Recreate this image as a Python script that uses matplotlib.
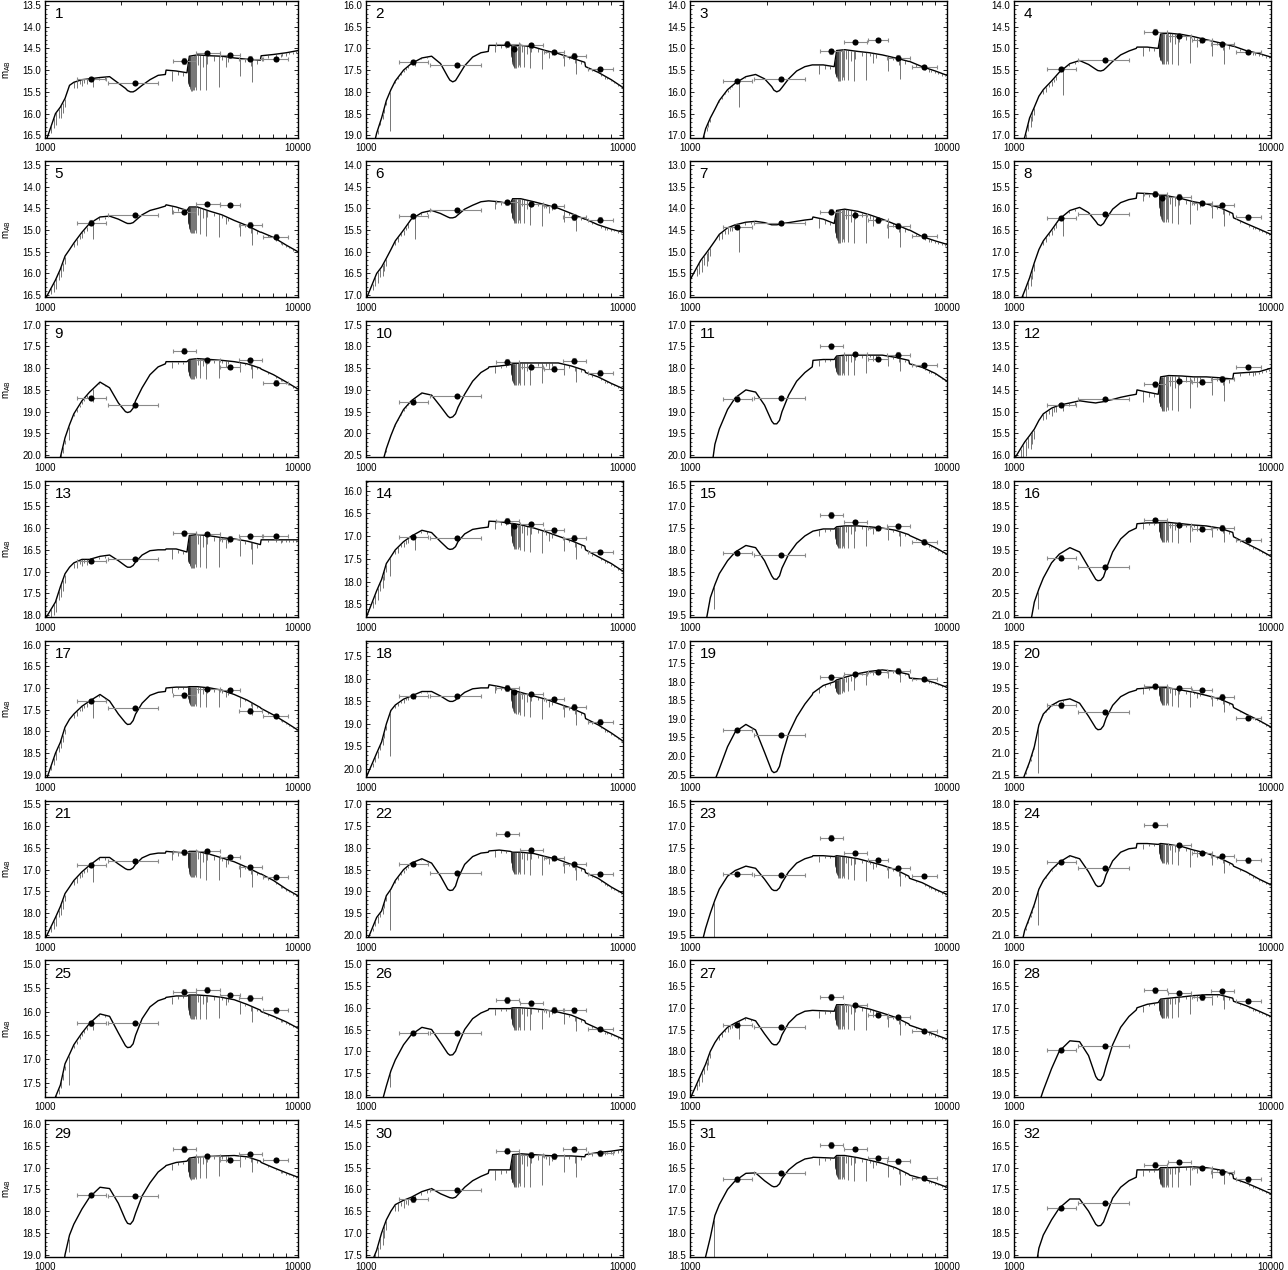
import numpy as np
import matplotlib
matplotlib.use("Agg")
import matplotlib.pyplot as plt
from matplotlib.ticker import FixedLocator, NullFormatter, MultipleLocator, FormatStrFormatter

plt.rcParams['font.family'] = ['Liberation Sans', 'DejaVu Sans']

# ---------------- data ----------------
PANEL_IDS = list(range(1, 33))

MODEL_WAVE = [1000, 1100, 1150, 1200, 1250, 1300, 1400, 1500, 1650, 1800, 1950, 2080, 2120, 2175, 2230,
              2280, 2420, 2600, 2800, 2990, 3010, 3300, 3640, 3720, 4000, 4500, 5000, 5600, 6300, 7100,
              7150, 8000, 9000, 10000]

MODEL_MAG = [
    [16.7, 16.0, 15.85, 15.65, 15.35, 15.28, 15.22, 15.2, 15.17, 15.15, 15.3, 15.42, 15.47, 15.5, 15.5, 15.47, 15.35, 15.22, 15.12, 15.1, 15.0, 15.02, 15.06, 14.68, 14.65, 14.67, 14.68, 14.72, 14.75, 14.77, 14.67, 14.64, 14.6, 14.55],
    [20.0, 18.95, 18.6, 18.2, 17.95, 17.75, 17.5, 17.35, 17.22, 17.18, 17.35, 17.65, 17.73, 17.77, 17.74, 17.65, 17.4, 17.2, 17.1, 17.07, 16.93, 16.93, 16.93, 16.95, 16.93, 16.97, 17.05, 17.12, 17.22, 17.32, 17.42, 17.55, 17.72, 17.9],
    [17.6, 17.3, 16.85, 16.6, 16.4, 16.2, 15.95, 15.8, 15.65, 15.6, 15.7, 15.88, 15.96, 16.0, 15.97, 15.9, 15.7, 15.52, 15.42, 15.38, 15.38, 15.38, 15.42, 15.05, 15.03, 15.07, 15.1, 15.15, 15.22, 15.3, 15.3, 15.42, 15.52, 15.62],
    [17.6, 17.05, 16.6, 16.35, 16.1, 15.95, 15.75, 15.55, 15.35, 15.28, 15.37, 15.48, 15.51, 15.52, 15.5, 15.45, 15.3, 15.15, 15.06, 15.0, 14.97, 14.97, 15.0, 14.67, 14.65, 14.68, 14.73, 14.8, 14.87, 14.95, 14.95, 15.05, 15.12, 15.2],
    [16.6, 16.15, 15.9, 15.6, 15.45, 15.3, 15.05, 14.85, 14.7, 14.68, 14.75, 14.83, 14.85, 14.85, 14.83, 14.78, 14.65, 14.55, 14.5, 14.45, 14.42, 14.47, 14.55, 14.47, 14.47, 14.57, 14.65, 14.78, 14.9, 15.05, 15.05, 15.17, 15.35, 15.5],
    [17.1, 16.5, 16.35, 16.15, 15.95, 15.75, 15.5, 15.25, 15.1, 15.05, 15.12, 15.2, 15.22, 15.22, 15.2, 15.15, 15.02, 14.93, 14.85, 14.83, 14.83, 14.85, 14.9, 14.78, 14.78, 14.85, 14.92, 15.0, 15.12, 15.25, 15.25, 15.38, 15.48, 15.55],
    [15.65, 15.2, 15.05, 14.9, 14.75, 14.6, 14.45, 14.38, 14.32, 14.3, 14.33, 14.38, 14.38, 14.38, 14.37, 14.35, 14.33, 14.3, 14.27, 14.25, 14.2, 14.25, 14.35, 14.05, 14.02, 14.07, 14.15, 14.25, 14.37, 14.5, 14.5, 14.65, 14.75, 14.83],
    [18.5, 17.9, 17.6, 17.25, 16.95, 16.75, 16.5, 16.25, 16.05, 15.98, 16.1, 16.3, 16.37, 16.4, 16.35, 16.25, 16.02, 15.87, 15.8, 15.77, 15.65, 15.66, 15.68, 15.7, 15.72, 15.78, 15.85, 15.9, 15.98, 16.12, 16.22, 16.35, 16.48, 16.6],
    [20.8, 20.4, 20.05, 19.6, 19.3, 19.05, 18.75, 18.55, 18.32, 18.45, 18.8, 19.0, 19.02, 19.0, 18.92, 18.75, 18.45, 18.15, 17.97, 17.9, 17.85, 17.85, 17.85, 17.8, 17.78, 17.8, 17.82, 17.85, 17.9, 18.0, 18.02, 18.15, 18.32, 18.48],
    [21.5, 21.0, 20.75, 20.35, 20.05, 19.8, 19.45, 19.25, 19.07, 19.12, 19.38, 19.6, 19.64, 19.62, 19.55, 19.4, 19.1, 18.8, 18.6, 18.5, 18.47, 18.45, 18.42, 18.4, 18.38, 18.38, 18.38, 18.38, 18.45, 18.55, 18.6, 18.7, 18.85, 18.97],
    [21.0, 20.8, 20.65, 20.5, 19.75, 19.4, 18.95, 18.68, 18.5, 18.55, 18.85, 19.22, 19.28, 19.28, 19.2, 19.0, 18.62, 18.3, 18.1, 17.97, 17.82, 17.8, 17.8, 17.72, 17.7, 17.7, 17.7, 17.7, 17.75, 17.82, 17.9, 17.98, 18.12, 18.3],
    [16.1, 15.7, 15.55, 15.4, 15.2, 15.05, 14.92, 14.85, 14.8, 14.75, 14.78, 14.8, 14.79, 14.78, 14.77, 14.75, 14.72, 14.67, 14.63, 14.6, 14.5, 14.55, 14.6, 14.2, 14.17, 14.18, 14.2, 14.2, 14.22, 14.25, 14.12, 14.1, 14.08, 14.0],
    [18.1, 17.7, 17.35, 17.05, 16.9, 16.8, 16.72, 16.72, 16.65, 16.62, 16.75, 16.87, 16.9, 16.9, 16.86, 16.78, 16.62, 16.52, 16.5, 16.5, 16.48, 16.48, 16.55, 16.17, 16.15, 16.18, 16.22, 16.25, 16.3, 16.38, 16.27, 16.27, 16.27, 16.27],
    [18.8, 18.2, 17.95, 17.6, 17.45, 17.3, 17.12, 17.0, 16.87, 16.92, 17.12, 17.27, 17.29, 17.28, 17.23, 17.12, 16.95, 16.85, 16.82, 16.8, 16.67, 16.68, 16.72, 16.72, 16.75, 16.82, 16.9, 17.0, 17.1, 17.22, 17.3, 17.45, 17.6, 17.77],
    [20.5, 20.0, 19.7, 19.1, 18.8, 18.55, 18.25, 18.05, 17.9, 17.95, 18.25, 18.6, 18.67, 18.68, 18.6, 18.42, 18.1, 17.85, 17.68, 17.58, 17.57, 17.52, 17.52, 17.47, 17.45, 17.45, 17.47, 17.5, 17.55, 17.65, 17.67, 17.8, 17.95, 18.1],
    [22.0, 21.6, 21.3, 20.7, 20.4, 20.15, 19.8, 19.6, 19.45, 19.55, 19.9, 20.18, 20.21, 20.2, 20.12, 19.95, 19.55, 19.25, 19.08, 19.0, 18.9, 18.88, 18.88, 18.87, 18.87, 18.9, 18.93, 18.95, 19.0, 19.1, 19.2, 19.35, 19.5, 19.65],
    [19.2, 18.5, 18.25, 17.9, 17.72, 17.6, 17.42, 17.3, 17.15, 17.3, 17.6, 17.8, 17.84, 17.83, 17.75, 17.6, 17.35, 17.17, 17.1, 17.08, 17.0, 16.98, 16.98, 16.97, 16.97, 17.0, 17.05, 17.15, 17.28, 17.45, 17.47, 17.62, 17.8, 17.97],
    [20.2, 19.65, 19.4, 19.0, 18.7, 18.58, 18.45, 18.38, 18.28, 18.28, 18.38, 18.48, 18.5, 18.5, 18.47, 18.42, 18.3, 18.22, 18.2, 18.2, 18.13, 18.17, 18.23, 18.25, 18.3, 18.38, 18.45, 18.55, 18.65, 18.78, 18.88, 19.02, 19.2, 19.38],
    [22.0, 21.6, 21.3, 21.0, 20.65, 20.35, 19.75, 19.35, 19.15, 19.3, 19.9, 20.4, 20.45, 20.42, 20.28, 20.0, 19.4, 18.95, 18.6, 18.35, 18.3, 18.1, 18.0, 17.95, 17.88, 17.78, 17.72, 17.68, 17.72, 17.8, 17.9, 17.93, 18.03, 18.15],
    [22.2, 21.5, 21.2, 20.85, 20.35, 20.1, 19.9, 19.8, 19.75, 19.85, 20.15, 20.42, 20.46, 20.45, 20.37, 20.2, 19.9, 19.7, 19.6, 19.55, 19.52, 19.5, 19.48, 19.48, 19.5, 19.55, 19.6, 19.67, 19.75, 19.88, 19.95, 20.1, 20.25, 20.4],
    [18.6, 18.1, 17.85, 17.55, 17.4, 17.25, 17.05, 16.9, 16.72, 16.72, 16.87, 16.98, 17.0, 17.0, 16.96, 16.88, 16.73, 16.65, 16.62, 16.62, 16.58, 16.6, 16.62, 16.58, 16.58, 16.65, 16.73, 16.82, 16.95, 17.1, 17.1, 17.25, 17.45, 17.6],
    [20.2, 19.6, 19.45, 19.1, 18.95, 18.75, 18.5, 18.35, 18.25, 18.35, 18.65, 18.95, 18.98, 18.97, 18.88, 18.7, 18.38, 18.2, 18.12, 18.1, 18.07, 18.05, 18.08, 18.1, 18.1, 18.13, 18.2, 18.27, 18.38, 18.5, 18.57, 18.7, 18.9, 19.05],
    [20.5, 19.8, 19.35, 19.0, 18.7, 18.45, 18.15, 18.02, 17.92, 17.97, 18.22, 18.45, 18.48, 18.48, 18.42, 18.3, 18.05, 17.85, 17.75, 17.7, 17.68, 17.68, 17.7, 17.68, 17.7, 17.75, 17.82, 17.9, 18.0, 18.15, 18.2, 18.3, 18.45, 18.57],
    [22.0, 20.9, 20.6, 20.3, 19.95, 19.75, 19.5, 19.33, 19.18, 19.25, 19.55, 19.85, 19.89, 19.88, 19.8, 19.62, 19.3, 19.1, 19.02, 19.0, 18.9, 18.9, 18.92, 18.9, 18.92, 18.97, 19.05, 19.12, 19.23, 19.38, 19.42, 19.55, 19.72, 19.85],
    [18.5, 17.8, 17.55, 17.1, 16.9, 16.7, 16.45, 16.25, 16.05, 16.1, 16.45, 16.72, 16.76, 16.75, 16.68, 16.5, 16.15, 15.9, 15.77, 15.72, 15.7, 15.67, 15.67, 15.65, 15.65, 15.67, 15.7, 15.75, 15.85, 15.97, 16.0, 16.1, 16.22, 16.35],
    [19.0, 18.6, 18.2, 17.8, 17.45, 17.2, 16.85, 16.62, 16.45, 16.5, 16.8, 17.05, 17.09, 17.08, 17.0, 16.85, 16.5, 16.25, 16.12, 16.05, 16.02, 16.02, 16.02, 16.0, 16.0, 16.02, 16.05, 16.1, 16.17, 16.3, 16.35, 16.48, 16.6, 16.72],
    [19.1, 18.55, 18.3, 18.0, 17.8, 17.65, 17.45, 17.35, 17.23, 17.3, 17.6, 17.82, 17.85, 17.85, 17.77, 17.62, 17.35, 17.17, 17.08, 17.06, 17.06, 17.07, 17.08, 16.93, 16.93, 16.97, 17.03, 17.12, 17.22, 17.37, 17.4, 17.5, 17.62, 17.72],
    [21.0, 20.5, 20.2, 19.8, 19.2, 18.9, 18.4, 18.0, 17.76, 17.78, 18.1, 18.58, 18.65, 18.67, 18.56, 18.35, 17.85, 17.45, 17.2, 17.05, 17.0, 16.92, 16.88, 16.8, 16.78, 16.75, 16.72, 16.7, 16.7, 16.78, 16.85, 16.95, 17.08, 17.2],
    [21.0, 20.3, 19.8, 19.0, 18.55, 18.3, 17.95, 17.68, 17.45, 17.48, 17.82, 18.2, 18.28, 18.3, 18.22, 18.05, 17.65, 17.35, 17.1, 16.97, 16.95, 16.88, 16.85, 16.78, 16.75, 16.74, 16.73, 16.72, 16.75, 16.85, 16.88, 17.0, 17.12, 17.22],
    [18.0, 17.4, 17.0, 16.7, 16.5, 16.35, 16.25, 16.18, 16.05, 15.98, 16.1, 16.17, 16.19, 16.2, 16.18, 16.12, 15.95, 15.8, 15.7, 15.63, 15.55, 15.55, 15.55, 15.2, 15.18, 15.2, 15.22, 15.23, 15.23, 15.25, 15.2, 15.15, 15.12, 15.08],
    [19.5, 19.0, 18.55, 18.1, 17.6, 17.35, 17.0, 16.8, 16.63, 16.62, 16.8, 16.92, 16.94, 16.93, 16.87, 16.75, 16.55, 16.4, 16.3, 16.27, 16.26, 16.27, 16.28, 16.22, 16.22, 16.27, 16.33, 16.4, 16.5, 16.65, 16.67, 16.75, 16.85, 16.95],
    [21.0, 20.4, 20.0, 19.5, 18.85, 18.55, 18.2, 17.93, 17.72, 17.72, 18.0, 18.3, 18.34, 18.33, 18.25, 18.1, 17.7, 17.45, 17.3, 17.22, 17.05, 17.05, 17.05, 17.0, 17.0, 16.99, 16.98, 17.0, 17.05, 17.15, 17.25, 17.35, 17.48, 17.6],
]

# photometric bands: FUV, NUV, U, extra (~3780), B, V, R, I
BAND_WAVE = [1520, 2270, 3550, 3780, 4380, 5400, 6450, 8150]
BAND_LO = [1340, 1780, 3200, np.nan, 3970, 4920, 5830, 7300]
BAND_HI = [1750, 2800, 3950, np.nan, 4900, 5900, 7200, 9150]
BAND_YERR = [0.05, 0.04, 0.06, 0.04, 0.05, 0.05, 0.06, 0.05]
nan = np.nan
OBS_MAG = [
    [15.20, 15.29, 14.79, nan, 14.61, 14.66, 14.74, 14.75],
    [17.31, 17.38, 16.90, 17.01, 16.93, 17.08, 17.17, 17.47],
    [15.75, 15.70, 15.07, nan, 14.86, 14.80, 15.22, 15.43],
    [15.48, 15.27, 14.62, nan, 14.72, 14.80, 14.91, 15.08],
    [14.83, 14.65, 14.58, nan, 14.40, 14.43, 14.88, 15.15],
    [15.18, 15.03, 14.86, nan, 14.90, 14.94, 15.20, 15.26],
    [14.42, 14.34, 14.08, nan, 14.15, 14.28, 14.40, 14.64],
    [16.22, 16.13, 15.66, 15.76, 15.73, 15.88, 15.93, 16.21],
    [18.68, 18.85, 17.60, nan, 17.82, 17.97, 17.82, 18.33],
    [19.28, 19.15, 18.35, nan, 18.48, 18.51, 18.33, 18.60],
    [18.70, 18.68, 17.50, nan, 17.67, 17.79, 17.69, 17.93],
    [14.85, 14.72, 14.37, nan, 14.30, 14.31, 14.25, 13.97],
    [16.75, 16.72, 16.12, nan, 16.14, 16.24, 16.19, 16.19],
    [17.02, 17.03, 16.66, 16.77, 16.74, 16.87, 17.03, 17.35],
    [18.08, 18.13, 17.20, nan, 17.36, 17.50, 17.46, 17.81],
    [19.68, 19.90, 18.82, nan, 18.93, 19.01, 18.99, 19.28],
    [17.30, 17.47, 17.17, nan, 17.02, 17.05, 17.52, 17.65],
    [18.38, 18.38, 18.20, 18.30, 18.33, 18.45, 18.62, 18.95],
    [19.29, 19.43, 17.88, nan, 17.80, 17.75, 17.70, 17.93],
    [19.90, 20.05, 19.46, nan, 19.50, 19.55, 19.70, 20.18],
    [16.89, 16.80, 16.60, nan, 16.58, 16.72, 16.95, 17.17],
    [18.37, 18.57, 17.67, nan, 18.05, 18.23, 18.38, 18.60],
    [18.10, 18.13, 17.27, nan, 17.62, 17.78, 17.97, 18.15],
    [19.33, 19.47, 18.47, nan, 18.93, 19.12, 19.19, 19.29],
    [16.25, 16.25, 15.58, nan, 15.54, 15.65, 15.72, 15.97],
    [16.58, 16.58, 15.82, nan, 15.90, 16.04, 16.06, 16.49],
    [17.40, 17.44, 16.75, nan, 16.93, 17.17, 17.22, 17.53],
    [17.97, 17.88, 16.60, nan, 16.67, 16.76, 16.62, 16.85],
    [17.63, 17.64, 16.57, nan, 16.74, 16.83, 16.69, 16.83],
    [16.23, 16.02, 15.11, nan, 15.20, 15.24, 15.08, 15.17],
    [16.77, 16.62, 15.98, nan, 16.07, 16.28, 16.35, 16.73],
    [17.92, 17.81, 16.93, nan, 16.87, 17.00, 17.10, 17.27],
]

# axis ranges (top, bottom) in magnitudes
Y_TOP = [13.41, 15.91, 13.91, 13.91, 13.41, 13.91, 12.91, 14.91, 16.91, 17.41, 16.91, 12.91,
         14.91, 15.78, 16.41, 17.91, 15.91, 17.15, 16.89, 18.41, 15.41, 16.91, 16.41, 17.91,
         14.92, 14.91, 15.91, 15.91, 15.91, 14.41, 15.41, 15.91]
Y_BOT = [16.55, 19.05, 17.05, 17.05, 16.55, 17.05, 16.05, 18.05, 20.05, 20.55, 20.05, 16.05,
         18.05, 18.78, 19.55, 21.05, 19.05, 20.18, 20.57, 21.55, 18.55, 20.05, 19.55, 21.05,
         17.80, 18.05, 19.05, 19.05, 19.05, 17.55, 18.55, 19.05]

# absorption-line templates of the model spectra
BALMER_WAVE = [6563, 4861, 4340, 4102, 3970, 3933, 3889, 3835, 3798, 3771, 3750, 3734, 3722, 3712,
               3704, 3697, 3692, 3687, 3683, 3679, 3676, 3674, 3671, 3669, 3668, 3666, 3665, 3663, 3662]
BALMER_REL = [0.65, 0.9, 1.0, 1.0, 1.0, 0.9, 1.0, 1.0, 1.0, 1.0, 0.95, 0.9, 0.85, 0.8,
              0.75, 0.7, 0.65, 0.6, 0.55, 0.5, 0.45, 0.4, 0.35, 0.3, 0.27, 0.24, 0.2, 0.17, 0.14]
METAL_WAVE = [3180, 3360, 3500, 4030, 4227, 4383, 4668, 5015, 5175, 5270, 5893, 6150, 6495, 6870,
              7600, 8190, 8542, 8662, 9000, 9230, 9550, 9800]
METAL_REL = [0.3, 0.12, 0.1, 0.3, 0.35, 0.25, 0.15, 0.12, 0.3, 0.15, 0.5, 0.1, 0.2, 0.12,
             0.08, 0.08, 0.1, 0.08, 0.08, 0.06, 0.08, 0.06]
UV_WAVE = [1060, 1085, 1110, 1135, 1160, 1175, 1195, 1300, 1335, 1370, 1400, 1425, 1460, 1640, 1720]
UV_REL = [0.6, 0.8, 1.0, 0.7, 1.0, 0.8, 0.6, 0.4, 0.5, 0.3, 0.5, 0.3, 0.4, 0.2, 0.2]
LYA_WAVE = 1240
CIV_WAVE = 1550

LINE_DEPTH = [0.8, 0.5, 0.7, 0.7, 0.6, 0.55, 0.75, 0.6, 0.45, 0.5, 0.45, 0.8, 0.75, 0.55, 0.5, 0.45,
              0.45, 0.5, 0.4, 0.4, 0.6, 0.5, 0.5, 0.45, 0.5, 0.5, 0.55, 0.45, 0.5, 0.75, 0.55, 0.45]
UV_DEPTH = [0.3, 0.1, 0.1, 0.25, 0.25, 0.25, 0.3, 0.25, 0.15, 0.05, 0.0, 0.35, 0.3, 0.25, 0.0, 0.0,
            0.2, 0.15, 0.0, 0.05, 0.25, 0.15, 0.0, 0.05, 0.15, 0.0, 0.2, 0.0, 0.0, 0.35, 0.0, 0.0]
LYA_DEPTH = [0.0, 0.9, 0.0, 0.0, 0.0, 0.0, 0.0, 0.0, 0.3, 0.0, 0.0, 0.0, 0.0, 0.4, 0.5, 0.4,
             0.0, 0.95, 0.0, 1.0, 0.0, 0.9, 0.8, 0.75, 0.6, 0.3, 0.0, 0.0, 0.3, 0.0, 1.0, 0.2]
CIV_DEPTH = [0.2, 0.1, 0.6, 0.6, 0.4, 0.5, 0.65, 0.45, 0.3, 0.05, 0.0, 0.15, 0.1, 0.35, 0.0, 0.0,
             0.45, 0.1, 0.0, 0.05, 0.45, 0.1, 0.0, 0.05, 0.2, 0.0, 0.4, 0.0, 0.0, 0.1, 0.0, 0.0]

X_LABELS = ['1000', '10000']
X_MINOR = [2000, 3000, 4000, 5000, 6000, 7000, 8000, 9000]

# ---------------- layout ----------------
FW, FH = 1288, 1270
COL_LEFT = [45, 366, 690, 1014]
COL_W = [253, 257, 257, 257]
ROW_TOP0 = 1.0
ROW_PITCH = 159.9
AX_H = 136.5

fig = plt.figure(figsize=(FW / 100, FH / 100), dpi=100)
fig.patch.set_facecolor('white')

logw = np.log10(MODEL_WAVE)

for i, pid in enumerate(PANEL_IDS):
    r, c = divmod(i, 4)
    top = ROW_TOP0 + r * ROW_PITCH
    ax = fig.add_axes([COL_LEFT[c] / FW, 1 - (top + AX_H) / FH, COL_W[c] / FW, AX_H / FH])
    mags = np.array(MODEL_MAG[i])

    # model continuum
    ax.plot(MODEL_WAVE, mags, color='black', lw=1.0, solid_joinstyle='round', zorder=2)

    def cont(w):
        return np.interp(np.log10(w), logw, mags)

    # absorption features hanging from the model
    segs_w, segs_lo, segs_hi = [], [], []
    for w, rel in zip(BALMER_WAVE, BALMER_REL):
        segs_w.append(w); m0 = cont(w); segs_lo.append(m0); segs_hi.append(m0 + LINE_DEPTH[i] * rel)
    for w, rel in zip(METAL_WAVE, METAL_REL):
        segs_w.append(w); m0 = cont(w); segs_lo.append(m0); segs_hi.append(m0 + LINE_DEPTH[i] * rel)
    if UV_DEPTH[i] > 0:
        for w, rel in zip(UV_WAVE, UV_REL):
            segs_w.append(w); m0 = cont(w); segs_lo.append(m0); segs_hi.append(m0 + UV_DEPTH[i] * rel)
    if LYA_DEPTH[i] > 0:
        m0 = cont(LYA_WAVE); segs_w.append(LYA_WAVE); segs_lo.append(m0); segs_hi.append(m0 + LYA_DEPTH[i])
    if CIV_DEPTH[i] > 0:
        m0 = cont(CIV_WAVE); segs_w.append(CIV_WAVE); segs_lo.append(m0); segs_hi.append(m0 + CIV_DEPTH[i])
    ax.vlines(segs_w, segs_lo, segs_hi, color='#2a2a2a', lw=0.45, zorder=2)

    # photometry
    obs = np.array(OBS_MAG[i])
    bw = np.array(BAND_WAVE, dtype=float)
    lo = np.array(BAND_LO, dtype=float)
    hi = np.array(BAND_HI, dtype=float)
    ok = ~np.isnan(obs)
    okx = ok & ~np.isnan(lo)
    ax.errorbar(bw[okx], obs[okx], xerr=[bw[okx] - lo[okx], hi[okx] - bw[okx]],
                fmt='none', ecolor='#8a8a8a', elinewidth=0.8, capsize=1.6, capthick=0.8, zorder=3)
    ax.errorbar(bw[ok], obs[ok], yerr=np.array(BAND_YERR)[ok],
                fmt='none', ecolor='#8a8a8a', elinewidth=0.8, capsize=1.6, capthick=0.8, zorder=3)
    ax.plot(bw[ok], obs[ok], 'o', color='black', ms=4.4, mew=0, zorder=4)

    # axes
    ax.set_xscale('log')
    ax.set_xlim(1000, 10000)
    ax.set_ylim(Y_BOT[i], Y_TOP[i])
    ax.xaxis.set_major_locator(FixedLocator([1000, 10000]))
    ax.set_xticklabels(X_LABELS)
    ax.xaxis.set_minor_locator(FixedLocator(X_MINOR))
    ax.xaxis.set_minor_formatter(NullFormatter())
    ax.yaxis.set_major_locator(MultipleLocator(0.5))
    ax.yaxis.set_minor_locator(MultipleLocator(0.1))
    ax.yaxis.set_major_formatter(FormatStrFormatter('%.1f'))
    ax.tick_params(which='both', direction='in', top=True, right=True, labelsize=7, pad=2.5)
    ax.tick_params(axis='x', which='major', length=0, pad=4)
    ax.tick_params(axis='x', which='minor', length=3.0, width=0.6)
    ax.tick_params(axis='y', which='major', length=3.0, width=0.6)
    ax.tick_params(axis='y', which='minor', length=1.5, width=0.5)
    for sp in ax.spines.values():
        sp.set_linewidth(1.0)

    ax.annotate(str(pid), xy=(0, 1), xycoords='axes fraction', xytext=(7, -4.5),
                textcoords='offset points', ha='left', va='top', fontsize=11)

    if c == 0:
        fig.text(7 / FW, 1 - (top + AX_H / 2) / FH, r'm$_{\rm AB}$', rotation=90,
                 ha='center', va='center', fontsize=7)

fig.savefig('out.png', dpi=100, facecolor='white')
